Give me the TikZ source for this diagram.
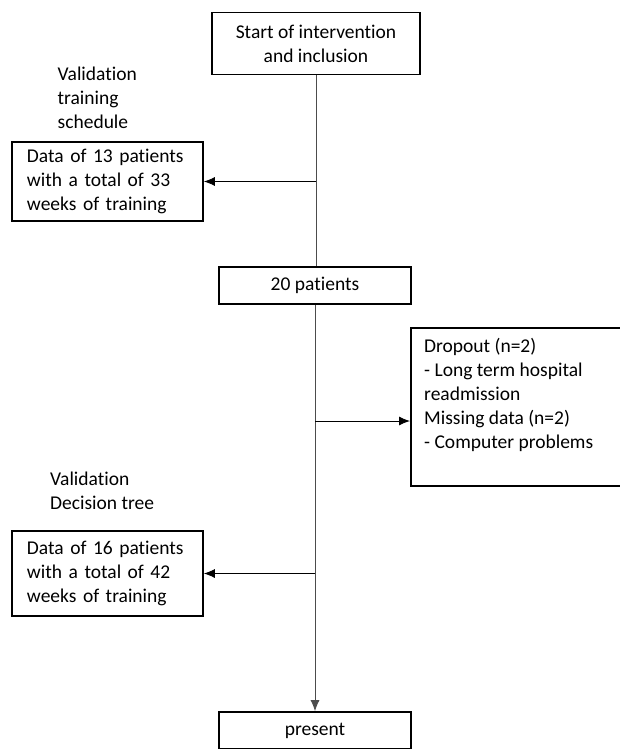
\documentclass[tikz,border=0pt]{standalone}
\usepackage{fontspec}
\setmainfont{Carlito}[Ligatures=NoCommon]
\usepackage{tikz}
\usetikzlibrary{arrows.meta,positioning}

\tikzset{
  box/.style={draw,line width=1.6pt,align=center,inner sep=0pt},
  databox/.style={draw,line width=1.6pt,align=left,text width=161pt,inner xsep=15pt,inner ysep=0pt,minimum width=191pt},
  note/.style={align=left,inner sep=0pt,anchor=north west},
  flow/.style={line width=0.9pt,black!70},
  side/.style={line width=0.9pt,-{Latex[length=11pt,width=9pt]}},
}

\begin{document}
\begin{tikzpicture}[x=1pt,y=-1pt,font=\fontsize{19.5}{24}\selectfont]
\useasboundingbox (0,0) rectangle (619,749);

\node[box,minimum width=208pt,minimum height=62pt] (start) at (316,43.5) {Start of intervention\\and inclusion};
\node[databox,minimum height=79pt] (sched) at (107.5,181.5) {Data of 13 patients\\with a total of 33\\weeks of training};
\node[note] (valsched) at ([xshift=-50pt,yshift=74pt]sched.north) {Validation\\training\\schedule};
\node[box,minimum width=192pt,minimum height=37pt] (patients) at (315,285.5) {20 patients};
\node[draw,line width=1.6pt,minimum width=250pt,minimum height=158pt,anchor=north west] (drop) at (410,327) {};
\node[note] (droptext) at ([xshift=14pt,yshift=-11pt]drop.north west) {Dropout (n=2)\\- Long term hospital\\readmission\\Missing data (n=2)\\- Computer problems};
\node[databox,minimum height=85pt] (tree) at (107.5,573.5) {Data of 16 patients\\with a total of 42\\weeks of training};
\node[note] (valtree) at ([xshift=-57.5pt,yshift=58pt]tree.north) {Validation\\Decision tree};
\node[box,minimum width=192pt,minimum height=37pt] (present) at (315,730.5) {present};

% main line
\draw[flow] (start.south) -- (start.south |- patients.north);
\draw[flow,-{Latex[length=11pt,width=9pt]}] (patients.south) -- (present.north);

% side arrows
\coordinate (s1) at (start.south |- sched.east);
\coordinate (s2) at (patients.south |- 0,421);
\coordinate (s3) at (patients.south |- tree.east);
\draw[side] (s1) -- (sched.east);
\draw[side] (s2) -- (s2 -| drop.west);
\draw[side] (s3) -- (tree.east);
\end{tikzpicture}
\end{document}
